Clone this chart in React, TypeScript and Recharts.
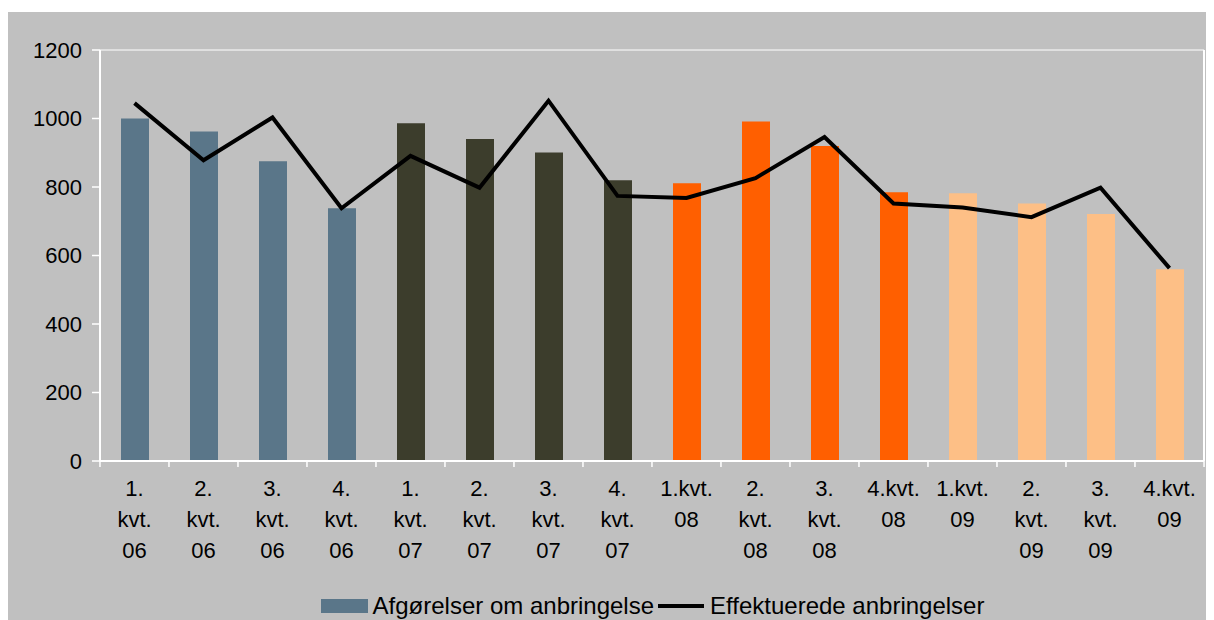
import {
  Bar,
  Cell,
  CartesianGrid,
  ComposedChart,
  Legend,
  Line,
  XAxis,
  YAxis,
} from "recharts";

// Kvartaler (x-akse), linjeskift som i originalen
const quarters = [
  "1.\nkvt.\n06",
  "2.\nkvt.\n06",
  "3.\nkvt.\n06",
  "4.\nkvt.\n06",
  "1.\nkvt.\n07",
  "2.\nkvt.\n07",
  "3.\nkvt.\n07",
  "4.\nkvt.\n07",
  "1.kvt.\n08",
  "2.\nkvt.\n08",
  "3.\nkvt.\n08",
  "4.kvt.\n08",
  "1.kvt.\n09",
  "2.\nkvt.\n09",
  "3.\nkvt.\n09",
  "4.kvt.\n09",
];

// Afgørelser om anbringelse (søjler)
const decisions = [1000, 962, 875, 738, 986, 940, 901, 820, 811, 991, 920, 785, 782, 752, 721, 560];

// Effektuerede anbringelser (linje)
const effected = [1045, 878, 1003, 738, 891, 798, 1052, 774, 768, 826, 946, 752, 740, 712, 798, 563];

// år for hver søjle -> farve
const years = ["06", "06", "06", "06", "07", "07", "07", "07", "08", "08", "08", "08", "09", "09", "09", "09"];

const yTicks = [0, 200, 400, 600, 800, 1000, 1200];

const yearColor: Record<string, string> = {
  "06": "#5a7689",
  "07": "#3c3d2c",
  "08": "#ff5f00",
  "09": "#fdbf86",
};

const FONT = "'Liberation Sans', Arial, sans-serif";
const BG = "#c0c0c0";
const CHART_W = 1206;
const CHART_H = 608;
const PLOT_LEFT = 92;
const PLOT_RIGHT_MARGIN = 9;
const HALF_BAND = (CHART_W - PLOT_LEFT - PLOT_RIGHT_MARGIN) / quarters.length / 2;

const data = quarters.map((q, i) => ({
  quarter: q,
  decisions: decisions[i],
  effected: effected[i],
  year: years[i],
}));

function QuarterTick(props: any) {
  const { x, y, payload, index } = props;
  const lines = String(payload.value).split("\n");
  const isLast = index === quarters.length - 1;
  return (
    <g>
      <line x1={x - HALF_BAND} x2={x - HALF_BAND} y1={y} y2={y + 6} stroke="#ffffff" strokeWidth={1.5} />
      {isLast && (
        <line x1={x + HALF_BAND} x2={x + HALF_BAND} y1={y} y2={y + 6} stroke="#ffffff" strokeWidth={1.5} />
      )}
      <text x={x} y={y} textAnchor="middle" fontSize={22} fontFamily={FONT} fill="#000">
        {lines.map((l, i) => (
          <tspan key={i} x={x} dy={i === 0 ? 35 : 31}>
            {l}
          </tspan>
        ))}
      </text>
    </g>
  );
}

function LegendBox() {
  return (
    <div
      style={{
        display: "flex",
        justifyContent: "center",
        alignItems: "center",
        marginLeft: PLOT_LEFT,
        width: CHART_W - PLOT_LEFT - PLOT_RIGHT_MARGIN,
        height: 28,
        fontFamily: FONT,
        fontSize: 24,
        color: "#000",
        whiteSpace: "nowrap",
      }}
    >
      <span style={{ display: "inline-block", width: 47, height: 14, background: yearColor["06"], marginRight: 5 }} />
      <span style={{ marginRight: 4 }}>Afgørelser om anbringelse</span>
      <span style={{ display: "inline-block", width: 46, height: 4, background: "#000", marginRight: 6 }} />
      <span>Effektuerede anbringelser</span>
    </div>
  );
}

export default function App() {
  return (
    <div style={{ marginTop: 4, width: CHART_W, height: CHART_H, background: BG }}>
      <ComposedChart
        width={CHART_W}
        height={CHART_H}
        data={data}
        margin={{ top: 38, right: PLOT_RIGHT_MARGIN, left: 0, bottom: 0 }}
        barCategoryGap={0}
      >
        <CartesianGrid vertical={false} stroke="#ffffff" strokeWidth={1} />
        <XAxis
          dataKey="quarter"
          interval={0}
          axisLine={{ stroke: "#ffffff", strokeWidth: 2 }}
          tickLine={false}
          tickSize={0}
          tickMargin={0}
          height={131}
          tick={<QuarterTick />}
        />
        <YAxis
          yAxisId="left"
          domain={[0, 1200]}
          ticks={yTicks}
          interval={0}
          width={PLOT_LEFT}
          axisLine={{ stroke: "#ffffff", strokeWidth: 2 }}
          tickLine={{ stroke: "#ffffff", strokeWidth: 1.5 }}
          tickSize={8}
          tickMargin={10}
          tick={{ fontSize: 22, fill: "#000", fontFamily: FONT }}
        />
        <YAxis
          yAxisId="right"
          orientation="right"
          domain={[0, 1200]}
          width={1}
          tick={false}
          tickLine={false}
          axisLine={{ stroke: "#ffffff", strokeWidth: 2 }}
        />
        <Legend verticalAlign="bottom" content={<LegendBox />} />
        <Bar yAxisId="left" dataKey="decisions" barSize={28} isAnimationActive={false}>
          {data.map((d) => (
            <Cell key={d.quarter} fill={yearColor[d.year]} />
          ))}
        </Bar>
        <Line
          yAxisId="left"
          type="linear"
          dataKey="effected"
          stroke="#000000"
          strokeWidth={4}
          dot={false}
          activeDot={false}
          isAnimationActive={false}
        />
      </ComposedChart>
    </div>
  );
}
